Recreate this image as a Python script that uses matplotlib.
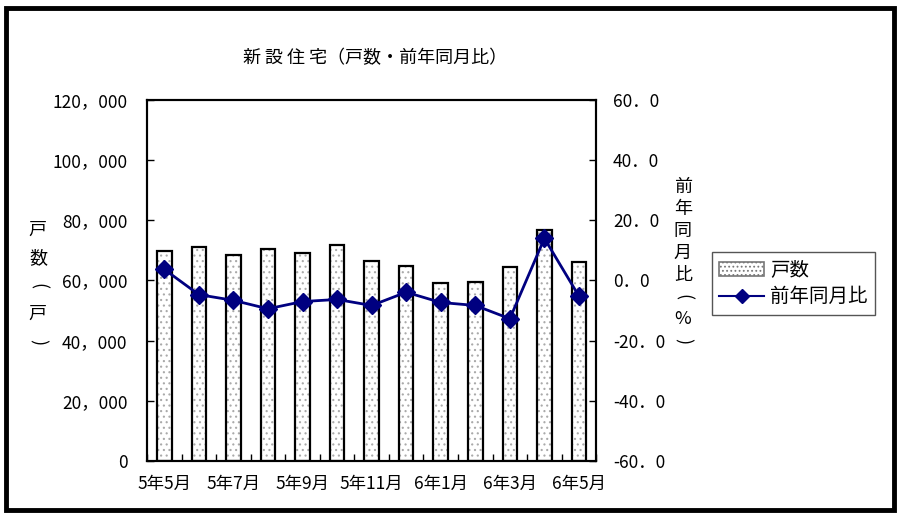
import matplotlib
matplotlib.use('Agg')
import matplotlib.pyplot as plt
from matplotlib.patches import Rectangle, Patch
from matplotlib.lines import Line2D

plt.rcParams['font.family'] = ['Noto Sans CJK JP', 'DejaVu Sans']
plt.rcParams['hatch.linewidth'] = 0.8

months = ['5年5月', '5年6月', '5年7月', '5年8月', '5年9月', '5年10月', '5年11月',
          '5年12月', '6年1月', '6年2月', '6年3月', '6年4月', '6年5月']
units = [69800, 71100, 68600, 70500, 69100, 71800, 66500,
         64800, 59200, 59500, 64400, 76700, 66200]
yoy = [3.7, -4.7, -6.6, -9.4, -7.0, -6.3, -8.3, -3.9, -7.3, -8.3, -12.7, 14.0, -5.2]

left_ticks = [0, 20000, 40000, 60000, 80000, 100000, 120000]
right_ticks = [-60, -40, -20, 0, 20, 40, 60]

fig = plt.figure(figsize=(9.02, 5.17), dpi=100)
ax = fig.add_axes([0.163, 0.1083, 0.498, 0.6983])
ax2 = ax.twinx()

x = list(range(len(months)))

# bars: gray dot hatch first, black outline on top
ax.bar(x, units, width=0.42, color='white', edgecolor='#aaaaaa', hatch='...', linewidth=0, zorder=2)
ax.bar(x, units, width=0.42, color='none', edgecolor='black', linewidth=1.6, zorder=3)

ax2.plot(x, yoy, color='#000080', marker='D', markersize=9, linewidth=2, zorder=4)

ax.set_xlim(-0.5, len(months) - 0.5)
ax.set_ylim(0, 120000)
ax2.set_ylim(-60, 60)

ax.set_yticks(left_ticks)
ax.set_yticklabels([f'{v:,}'.replace(',', '，') if v else '0' for v in left_ticks])
ax2.set_yticks(right_ticks)
ax2.set_yticklabels([f'{v:.1f}'.replace('.', '．') for v in right_ticks])

ax.set_xticks(x[::2])
ax.set_xticklabels(months[::2])
ax.set_xticks([i - 0.5 for i in range(len(months) + 1)], minor=True)
ax.tick_params(axis='x', which='major', length=0, pad=10, labelsize=12.5)
ax.tick_params(axis='x', which='minor', direction='in', length=5, width=1)
ax.tick_params(axis='y', direction='in', length=5, width=1, labelsize=12.5, pad=14)
ax2.tick_params(axis='y', direction='in', length=5, width=1, labelsize=12.5, pad=12)

for a in (ax, ax2):
    for s in a.spines.values():
        s.set_linewidth(1.5)

fig.text(0.416, 0.888, '新 設 住 宅（戸数・前年同月比）', ha='center', va='center', fontsize=13)


def vertical_label(xc, ytop, chars, step):
    # stack characters one per line; brackets turned for vertical writing
    for i, ch in enumerate(chars):
        rot = -90 if ch in '()' else 0
        fig.text(xc, ytop - i * step, ch, ha='center', va='center', fontsize=13,
                 rotation=rot, rotation_mode='anchor')


vertical_label(0.042, 0.555, '戸数(戸)', 0.054)
vertical_label(0.757, 0.638, '前年同月比(%)', 0.0425)

handles = [Patch(facecolor='white', edgecolor='#777777', hatch='....', linewidth=1.2),
           Line2D([0], [0], color='#000080', marker='D', markersize=7, linewidth=1.5)]
leg = fig.legend(handles, ['戸数', '前年同月比'], loc='upper left',
                 bbox_to_anchor=(0.789, 0.513), fontsize=14, fancybox=False,
                 edgecolor='#555555', framealpha=1, handlelength=2.3,
                 borderpad=0.4, labelspacing=0.3, handletextpad=0.3, borderaxespad=0)
leg.get_frame().set_linewidth(1)

fig.patches.append(Rectangle((0.007, 0.014), 0.984, 0.97, transform=fig.transFigure,
                             fill=False, edgecolor='black', linewidth=3.5))

fig.savefig('out.png', dpi=100)
